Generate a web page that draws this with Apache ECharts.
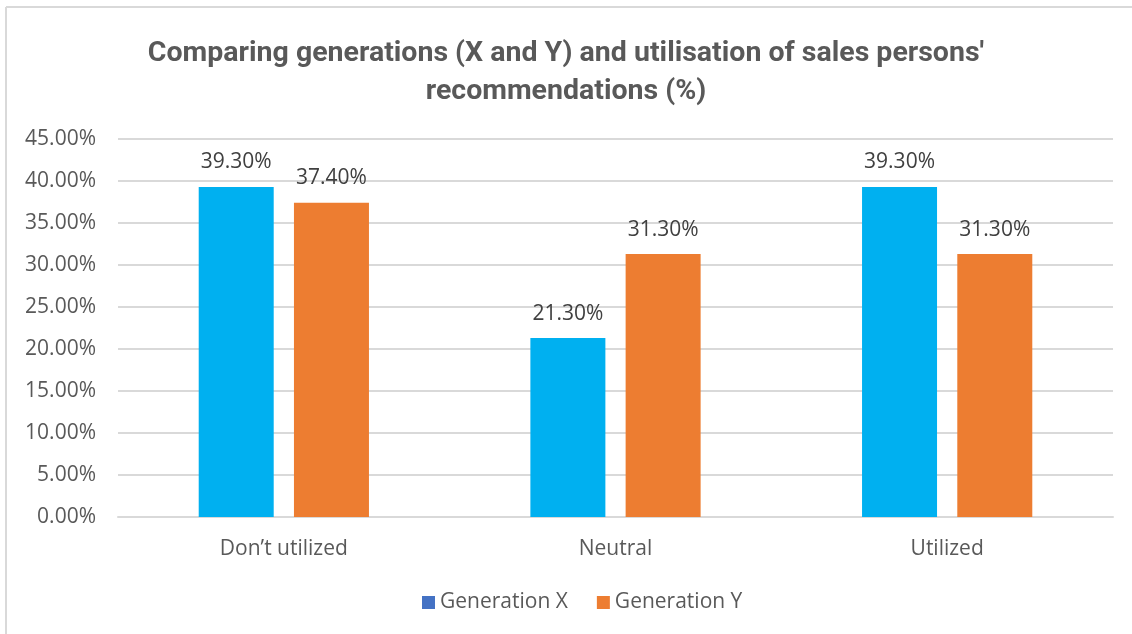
<!DOCTYPE html>
<html>
<head>
<meta charset="utf-8">
<script src="https://cdn.jsdelivr.net/npm/echarts@6/dist/echarts.min.js"></script>
<style>
  html, body { margin: 0; padding: 0; background: #fff; }
  #chart { width: 1132px; height: 634px; }
</style>
</head>
<body>
<div id="chart"></div>
<script>
var categories = ["Don\u2019t utilized", "Neutral", "Utilized"];
var genX = [39.3, 21.3, 39.3];
var genY = [37.4, 31.3, 31.3];
var yTicks = { min: 0, max: 45, interval: 5 };

var textColor = '#595959';
var font = '"Open Sans", "Noto Sans", sans-serif';

var myChart = echarts.init(document.getElementById('chart'));
var option = {
  backgroundColor: '#fff',
  animation: false,
  title: {
    text: "Comparing generations (X and Y) and utilisation of sales persons'\nrecommendations (%)",
    left: 'center',
    top: 30,
    textStyle: {
      fontFamily: '"Roboto", sans-serif',
      fontWeight: 'bold',
      fontSize: 28.5,
      lineHeight: 38,
      color: textColor
    }
  },
  graphic: [
    { type: 'line', shape: { x1: 6, y1: 7, x2: 1132, y2: 7 }, style: { stroke: '#d9d9d9', lineWidth: 2 } },
    { type: 'line', shape: { x1: 6, y1: 7, x2: 6, y2: 634 }, style: { stroke: '#d9d9d9', lineWidth: 2 } }
  ],
  legend: {
    bottom: 16,
    left: 417,
    itemWidth: 13,
    itemHeight: 13,
    itemGap: 29,
    itemTextGap: 8,
    icon: 'rect',
    textStyle: { fontFamily: font, fontSize: 21, color: textColor },
    data: [
      { name: 'Generation X', itemStyle: { color: '#4472C4' } },
      { name: 'Generation Y', itemStyle: { color: '#ED7D31' } }
    ]
  },
  grid: { left: 118, right: 19, top: 139, bottom: 117 },
  xAxis: {
    type: 'category',
    data: categories,
    axisLine: { lineStyle: { color: '#d9d9d9', width: 2 } },
    axisTick: { show: false },
    axisLabel: { fontFamily: font, fontSize: 21, color: textColor, margin: 22 }
  },
  yAxis: {
    type: 'value',
    min: yTicks.min,
    max: yTicks.max,
    interval: yTicks.interval,
    axisLine: { show: false },
    axisTick: { show: false },
    splitLine: { lineStyle: { color: '#d9d9d9', width: 2 } },
    axisLabel: {
      fontFamily: font, fontSize: 21, color: textColor, margin: 22,
      formatter: function (v) { return v.toFixed(2) + '%'; }
    }
  },
  series: [
    {
      name: 'Generation X',
      type: 'bar',
      data: genX,
      barWidth: 75,
      barGap: '27%',
      itemStyle: { color: '#00B0F0' },
      label: {
        show: true, position: 'top', distance: 14,
        fontFamily: font, fontSize: 21, color: '#404040',
        formatter: function (p) { return p.value.toFixed(2) + '%'; }
      }
    },
    {
      name: 'Generation Y',
      type: 'bar',
      data: genY,
      barWidth: 75,
      itemStyle: { color: '#ED7D31' },
      label: {
        show: true, position: 'top', distance: 14,
        fontFamily: font, fontSize: 21, color: '#404040',
        formatter: function (p) { return p.value.toFixed(2) + '%'; }
      }
    }
  ]
};
myChart.setOption(option);
</script>
</body>
</html>
